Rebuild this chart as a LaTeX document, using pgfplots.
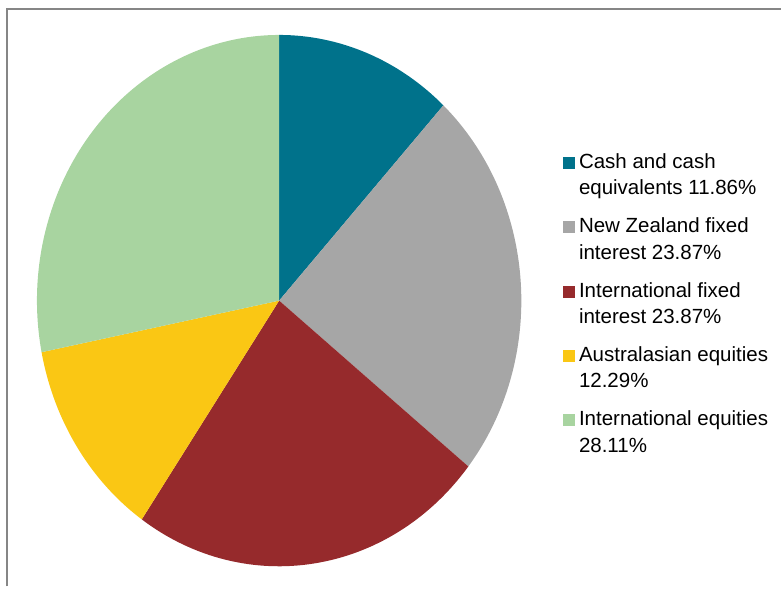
\documentclass[border=0pt]{standalone}
\usepackage{pgfplots}
\usepackage{pgfplotstable}
\pgfplotsset{compat=1.18}
\usepackage{fontspec}
\setmainfont{Liberation Sans}

\definecolor{cTeal}{RGB}{0,114,139}
\definecolor{cGray}{RGB}{166,166,166}
\definecolor{cRed}{RGB}{150,42,44}
\definecolor{cYellow}{RGB}{250,199,20}
\definecolor{cGreen}{RGB}{168,212,160}
\definecolor{frame}{RGB}{134,134,134}

% share of each asset class, in %
\pgfplotstableread{
value color
11.86 cTeal
23.87 cGray
23.87 cRed
12.29 cYellow
28.11 cGreen
}\piedata

\begin{document}
\begin{tikzpicture}
\begin{axis}[
    scale only axis,
    width=782bp, height=587bp,
    xmin=-1.1526, xmax=2.0722,
    ymin=-1.0752, ymax=1.1316,
    hide axis,
    clip=false,
    legend cell align=left,
    legend image code/.code={\fill[#1] (0bp,6bp) rectangle (12bp,18bp);},
    legend style={
        draw=none, fill=none,
        at={(rel axis cs:0.72,0.742)}, anchor=north west,
        font=\fontsize{20.6}{26.7}\selectfont,
        cells={align=left},
        row sep=17.5bp,
        column sep=2.5bp,
        inner sep=0pt,
    },
]
\path (rel axis cs:0,0) rectangle (rel axis cs:1,1);
\draw[line width=2bp, color=frame]
    (rel axis cs:0.00895,0) -- (rel axis cs:0.00895,0.98467) -- (rel axis cs:1,0.98467);

\pgfplotsextra{%
  \gdef\cum{0}%
  \foreach \i in {0,...,4}{%
    \pgfplotstablegetelem{\i}{value}\of\piedata \let\val\pgfplotsretval
    \pgfplotstablegetelem{\i}{color}\of\piedata \let\col\pgfplotsretval
    \pgfmathsetmacro\a{90-3.6*\cum}%
    \pgfmathsetmacro\b{90-3.6*(\cum+\val)}%
    \fill[fill=\col] (axis cs:0,0) -- ++(\a:242.5bp and 266bp)
        arc[start angle=\a, end angle=\b, x radius=242.5bp, y radius=266bp] -- cycle;
    \pgfmathsetmacro\newcum{\cum+\val}\global\let\cum\newcum
  }%
}

\addlegendimage{fill=cTeal, draw=none}
\addlegendentry{Cash and cash\\equivalents 11.86\%}
\addlegendimage{fill=cGray, draw=none}
\addlegendentry{New Zealand fixed\\interest 23.87\%}
\addlegendimage{fill=cRed, draw=none}
\addlegendentry{International fixed\\interest 23.87\%}
\addlegendimage{fill=cYellow, draw=none}
\addlegendentry{Australasian equities\\12.29\%}
\addlegendimage{fill=cGreen, draw=none}
\addlegendentry{International equities\\28.11\%}
\end{axis}
\end{tikzpicture}
\end{document}
